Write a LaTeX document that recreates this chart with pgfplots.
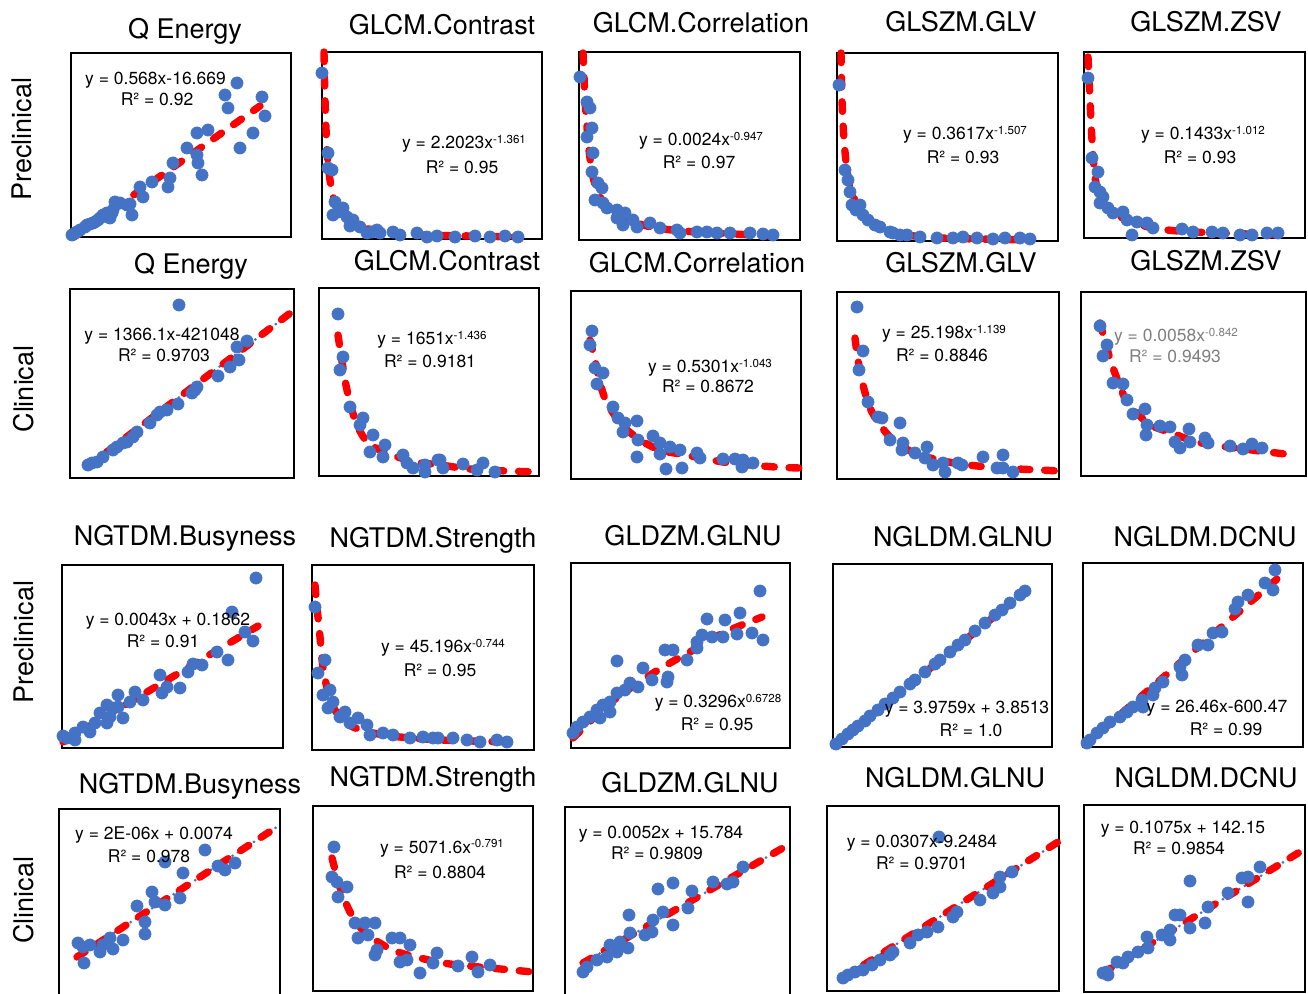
\documentclass[border=0pt]{standalone}
\usepackage{fontspec}
\setmainfont{TeX Gyre Heros}
\usepackage{pgfplots}
\pgfplotsset{compat=1.18}
\definecolor{dotblue}{HTML}{4472C4}
\definecolor{fitred}{HTML}{FF0000}
\definecolor{eqgray}{HTML}{7F7F7F}
\pgfplotsset{
 panel/.style n args={4}{xmin=#1,xmax=#2,ymin=#3,ymax=#4,x=0.5pt,y=0.5pt,y dir=reverse,
   at={(#1*0.5pt,-#3*0.5pt)},anchor=north west,ticks=none,clip=false,
   axis line style={black,line width=0.9pt}},
 dots/.style={only marks,mark=*,mark size=3pt,color=dotblue},
 fit/.style={fitred,line width=3.7pt,dash pattern=on 4.8pt off 7.4pt,line cap=round,no marks},
 trend/.style={dotblue,line width=1.5pt,dash pattern=on 0pt off 3.2pt,line cap=round,no marks},
}
\newcommand{\ttl}[3]{\node[font=\fontsize{13.5}{15}\selectfont,anchor=base,inner sep=0pt] at (#1*0.5pt,-#2*0.5pt) {#3};}
\newcommand{\eql}[3]{\node[font=\fontsize{8.75}{10}\selectfont,anchor=base,inner sep=0pt] at (#1*0.5pt,{-(#2+6)*0.5pt}) {#3};}
\newcommand{\sups}[1]{\raisebox{2.5pt}{\fontsize{5.8}{6}\selectfont #1}}
\begin{document}
\begin{tikzpicture}
\path[use as bounding box] (0,0) rectangle (654pt,-497pt);
% ---------- Row 1 ----------
\begin{axis}[panel={71}{291}{53}{237}]
\addplot[dots] coordinates {(75,233)(80,230)(85,227)(90,224)(95,222)(100,218)(103,215)(107,213)(112,213)(115,202)(120,203)(127,205)(132,215)(130,204)(140,187)(143,197)(152,182)(168,187)(170,178)(173,163)(187,148)(197,155)(197,133)(198,163)(202,175)(208,130)(225,95)(228,108)(237,83)(240,148)(253,133)(262,97)(265,116)(72,235)(77,232)(87,225)(93,223)(98,220)(108,217)(113,210)(110,218)};
\addplot[fit] coordinates {(74,237)(260,106)};
\end{axis}
\begin{axis}[panel={322}{542}{52}{239}]
\addplot[dots] coordinates {(322,73)(328,153)(328,168)(332,170)(335,202)(333,215)(343,208)(347,217)(353,220)(360,227)(367,233)(377,230)(380,233)(393,232)(400,235)(417,233)(427,237)(437,236)(455,237)(475,236)(490,237)(505,236)(518,237)(338,212)(350,226)(372,232)};
\addplot[fit,smooth] coordinates {(324,52)(325,100)(327,150)(330,180)(334,200)(340,212)(350,221)(365,228)(385,232)(420,235)(470,236)(520,237)};
\end{axis}
\begin{axis}[panel={579}{800}{52}{240}]
\addplot[dots] coordinates {(580,77)(587,102)(590,108)(592,128)(587,137)(593,153)(592,172)(598,183)(602,188)(595,200)(603,203)(607,208)(617,210)(625,213)(617,218)(623,225)(633,220)(637,227)(650,223)(660,228)(677,230)(680,233)(697,232)(707,232)(717,233)(730,233)(750,233)(763,234)(773,235)};
\addplot[fit,smooth] coordinates {(583,53)(584,77)(585,100)(587,127)(589,150)(593,177)(600,197)(610,208)(623,218)(643,225)(663,229)(697,232)(773,236)};
\end{axis}
\begin{axis}[panel={837}{1058}{53}{241}]
\addplot[dots] coordinates {(839,85)(845,170)(848,180)(850,192)(852,205)(856,210)(860,205)(868,220)(880,227)(893,233)(907,235)(937,238)(953,238)(963,237)(977,238)(993,239)(1005,238)(1020,238)(1030,239)(875,225)(890,232)(920,237)(863,215)(900,235)};
\addplot[fit,smooth] coordinates {(841,53)(842,100)(844,140)(847,170)(851,190)(857,205)(865,217)(880,228)(900,234)(940,238)(1033,240)};
\end{axis}
\begin{axis}[panel={1084}{1305}{52}{238}]
\addplot[dots] coordinates {(1088,78)(1092,158)(1098,172)(1095,187)(1100,192)(1103,197)(1100,203)(1108,208)(1113,213)(1123,212)(1127,220)(1137,222)(1147,223)(1132,235)(1153,228)(1182,229)(1193,232)(1212,232)(1223,233)(1240,235)(1252,235)(1267,233)(1278,233)};
\addplot[fit,smooth] coordinates {(1088,57)(1090,100)(1092,140)(1095,177)(1100,197)(1110,210)(1127,220)(1153,228)(1193,232)(1280,235)};
\end{axis}
% ---------- Row 2 ----------
\begin{axis}[panel={70}{294}{289}{478}]
\addplot[dots] coordinates {(179,305)(247,341)(237,347)(239,360)(230,367)(218,376)(197,387)(192,393)(178,404)(167,410)(157,415)(150,423)(137,432)(127,442)(117,447)(113,450)(103,457)(97,462)(88,465)(92,463)(195,390)(160,412)(133,437)(123,443)};
\addplot[trend] coordinates {(87,467)(293,311)};
\addplot[fit] coordinates {(87,467)(293,311)};
\end{axis}
\begin{axis}[panel={319}{539}{288}{476}]
\addplot[dots] coordinates {(338,314)(343,357)(340,370)(350,407)(363,418)(360,425)(373,435)(370,452)(385,445)(383,457)(403,455)(407,463)(413,468)(425,465)(425,472)(438,460)(440,460)(443,468)(463,464)(477,470)(483,463)(495,472)};
\addplot[fit,smooth] coordinates {(338,335)(341,355)(345,380)(350,403)(357,425)(367,442)(380,450)(395,456)(415,462)(440,465)(470,469)(507,471)(539,472)};
\end{axis}
\begin{axis}[panel={571}{801}{291}{479}]
\addplot[dots] coordinates {(592,331)(590,345)(595,368)(603,373)(597,384)(613,407)(618,418)(625,423)(637,421)(623,432)(638,440)(637,457)(653,436)(660,443)(670,447)(660,454)(680,450)(666,469)(682,468)(697,453)(700,458)(723,459)(735,459)(742,467)(743,460)(753,463)};
\addplot[fit,smooth] coordinates {(590,340)(595,360)(600,383)(607,403)(622,425)(640,440)(660,450)(680,454)(707,459)(730,463)(775,467)(800,468)};
\end{axis}
\begin{axis}[panel={837}{1059}{292}{479}]
\addplot[dots] coordinates {(857,307)(863,351)(859,370)(868,402)(878,417)(882,418)(900,423)(890,440)(903,443)(902,450)(915,453)(927,447)(925,458)(933,465)(943,463)(945,472)(958,463)(962,465)(983,457)(997,468)(1003,455)(1003,468)(1013,472)};
\addplot[fit,smooth] coordinates {(855,338)(858,360)(863,385)(870,408)(880,425)(893,440)(910,451)(930,458)(960,464)(1000,468)(1040,470)(1059,471)};
\end{axis}
\begin{axis}[panel={1081}{1306}{292}{476}]
\addplot[dots] coordinates {(1100,326)(1107,345)(1103,356)(1113,383)(1123,384)(1127,400)(1133,414)(1145,409)(1147,425)(1146,435)(1160,426)(1170,427)(1175,442)(1180,448)(1189,429)(1190,442)(1205,438)(1208,443)(1230,446)(1243,449)(1252,444)(1262,448)};
\addplot[fit,smooth] coordinates {(1100,323)(1108,352)(1113,368)(1127,403)(1137,413)(1150,425)(1172,433)(1193,441)(1220,446)(1285,454)};
\end{axis}
% ---------- Row 3 ----------
\begin{axis}[panel={62}{283}{565}{748}]
\addplot[dots] coordinates {(256,578)(232,612)(253,641)(245,632)(228,660)(217,652)(202,665)(193,664)(188,672)(180,688)(160,675)(162,693)(167,687)(143,700)(135,692)(130,702)(118,695)(123,718)(113,708)(107,705)(100,713)(107,723)(95,723)(90,732)(83,727)(75,733)(67,738)(63,736)(75,740)(110,717)(118,707)};
\addplot[fit] coordinates {(63,742)(258,626)};
\end{axis}
\begin{axis}[panel={312}{534}{565}{750}]
\addplot[dots] coordinates {(315,607)(325,660)(318,673)(323,695)(333,702)(328,708)(340,717)(350,723)(358,718)(367,725)(370,735)(383,733)(393,735)(410,738)(423,737)(433,738)(438,738)(453,738)(467,740)(480,742)(497,740)(507,742)(330,690)(345,712)};
\addplot[fit,smooth] coordinates {(315,585)(317,607)(320,637)(323,667)(330,700)(340,717)(353,727)(373,733)(400,737)(440,740)(510,742)};
\end{axis}
\begin{axis}[panel={571}{790}{563}{748}]
\addplot[dots] coordinates {(760,591)(740,613)(725,620)(707,619)(752,633)(763,640)(737,634)(723,637)(712,637)(702,635)(697,642)(697,648)(687,660)(673,650)(665,650)(668,677)(667,682)(652,680)(643,668)(617,661)(638,687)(630,683)(625,690)(617,693)(610,702)(603,705)(597,710)(590,717)(583,722)(577,727)(573,733)(600,718)(610,712)};
\addplot[fit,smooth] coordinates {(573,738)(610,703)(647,677)(670,663)(697,648)(723,633)(762,617)};
\end{axis}
\begin{axis}[panel={833}{1052}{564}{747}]
\addplot[dots] coordinates {(836,744)(842,739)(848,734)(853,730)(858,726)(865,721)(870,716)(878,710)(885,704)(893,698)(900,692)(910,684)(915,680)(925,672)(935,664)(940,660)(950,652)(958,645)(965,640)(975,631)(985,623)(995,615)(1002,610)(1010,603)(1020,595)(1025,591)};
\addplot[fit] coordinates {(834,746)(1027,590)};
\end{axis}
\begin{axis}[panel={1083}{1303}{563}{747}]
\addplot[dots] coordinates {(1275,570)(1273,590)(1265,583)(1248,595)(1238,602)(1235,609)(1222,632)(1213,633)(1208,645)(1198,645)(1185,660)(1180,667)(1182,675)(1163,682)(1155,688)(1153,695)(1142,700)(1133,707)(1127,712)(1120,717)(1110,722)(1103,728)(1097,733)(1090,740)(1087,743)(1143,707)};
\addplot[fit] coordinates {(1085,745)(1277,579)};
\end{axis}
% ---------- Row 4 ----------
\begin{axis}[panel={59}{280}{809}{997}]
\addplot[dots] coordinates {(205,850)(165,862)(183,873)(218,866)(225,870)(235,863)(152,892)(180,898)(155,902)(165,905)(137,906)(145,922)(145,934)(123,940)(110,938)(113,949)(100,952)(103,945)(90,945)(78,943)(83,947)(84,963)};
\addplot[trend] coordinates {(77,957)(280,825)};
\addplot[fit] coordinates {(77,957)(280,825)};
\end{axis}
\begin{axis}[panel={313}{533}{806}{991}]
\addplot[dots] coordinates {(334,847)(332,877)(337,882)(347,887)(338,897)(355,923)(365,923)(375,923)(358,938)(368,935)(377,950)(375,955)(392,938)(400,938)(410,945)(400,962)(407,960)(420,973)(437,953)(433,963)(458,966)(472,957)(478,972)(490,965)};
\addplot[fit,smooth] coordinates {(332,858)(337,877)(342,893)(350,912)(360,927)(375,940)(395,951)(420,958)(450,964)(490,968)(533,972)};
\end{axis}
\begin{axis}[panel={565}{790}{807}{997}]
\addplot[dots] coordinates {(743,867)(733,882)(727,884)(713,882)(692,891)(673,883)(658,889)(688,908)(673,925)(663,912)(653,920)(652,932)(645,935)(629,915)(630,933)(628,948)(620,942)(610,945)(617,952)(607,957)(597,960)(587,967)(583,972)};
\addplot[trend] coordinates {(583,963)(788,845)};
\addplot[fit] coordinates {(583,963)(788,845)};
\end{axis}
\begin{axis}[panel={827}{1059}{806}{991}]
\addplot[dots] coordinates {(939,837)(1012,872)(1000,877)(1000,887)(993,893)(980,900)(957,912)(953,917)(938,927)(927,932)(918,935)(910,943)(893,952)(890,955)(880,960)(872,965)(863,970)(848,975)(843,978)(855,972)};
\addplot[trend] coordinates {(843,978)(1058,842)};
\addplot[fit] coordinates {(843,978)(1058,842)};
\end{axis}
\begin{axis}[panel={1084}{1305}{805}{992}]
\addplot[dots] coordinates {(1190,881)(1260,867)(1248,877)(1242,878)(1248,902)(1228,893)(1208,907)(1205,923)(1190,928)(1180,915)(1175,915)(1170,930)(1170,940)(1162,935)(1147,937)(1148,948)(1138,952)(1128,957)(1123,963)(1117,962)(1107,972)(1103,973)(1108,975)};
\addplot[trend] coordinates {(1103,973)(1303,850)};
\addplot[fit] coordinates {(1103,973)(1303,850)};
\end{axis}
% ---------- Titles ----------
\ttl{185}{39}{Q Energy}
\ttl{442}{35}{GLCM.Contrast}
\ttl{701}{33}{GLCM.Correlation}
\ttl{961}{32}{GLSZM.GLV}
\ttl{1206}{32}{GLSZM.ZSV}
\ttl{191}{274}{Q Energy}
\ttl{447}{271}{GLCM.Contrast}
\ttl{697}{273}{GLCM.Correlation}
\ttl{961}{273}{GLSZM.GLV}
\ttl{1206}{271}{GLSZM.ZSV}
\ttl{185}{546}{NGTDM.Busyness}
\ttl{433}{548}{NGTDM.Strength}
\ttl{693}{546}{GLDZM.GLNU}
\ttl{963}{547}{NGLDM.GLNU}
\ttl{1205}{547}{NGLDM.DCNU}
\ttl{190}{793}{NGTDM.Busyness}
\ttl{433}{786}{NGTDM.Strength}
\ttl{690}{792}{GLDZM.GLNU}
\ttl{955}{787}{NGLDM.GLNU}
\ttl{1206}{787}{NGLDM.DCNU}
% ---------- Row labels ----------
\node[font=\fontsize{13.5}{15}\selectfont,rotate=90,anchor=base,inner sep=0pt] at (32*0.5pt,-139*0.5pt) {Preclinical};
\node[font=\fontsize{13.5}{15}\selectfont,rotate=90,anchor=base,inner sep=0pt] at (33*0.5pt,-389*0.5pt) {Clinical};
\node[font=\fontsize{13.5}{15}\selectfont,rotate=90,anchor=base,inner sep=0pt] at (33*0.5pt,-642*0.5pt) {Preclinical};
\node[font=\fontsize{13.5}{15}\selectfont,rotate=90,anchor=base,inner sep=0pt] at (33*0.5pt,-900*0.5pt) {Clinical};
% ---------- Equations ----------
\eql{155.5}{79}{y = 0.568x-16.669}
\eql{157}{100}{R² = 0.92}
\eql{464}{143}{y = 2.2023x\sups{-1.361}}
\eql{462}{168}{R² = 0.95}
\eql{701}{140}{y = 0.0024x\sups{-0.947}}
\eql{699}{163}{R² = 0.97}
\eql{965}{134}{y = 0.3617x\sups{-1.507}}
\eql{963}{158}{R² = 0.93}
\eql{1203}{134}{y = 0.1433x\sups{-1.012}}
\eql{1200}{158}{R² = 0.93}
\eql{162}{335}{y = 1366.1x-421048}
\eql{164}{356}{R² = 0.9703}
\eql{432}{339}{y = 1651x\sups{-1.436}}
\eql{430}{362}{R² = 0.9181}
\eql{710}{367}{y = 0.5301x\sups{-1.043}}
\eql{708}{387}{R² = 0.8672}
\eql{944}{333}{y = 25.198x\sups{-1.139}}
\eql{942}{356}{R² = 0.8846}
\eql{1176}{336}{\color{eqgray}y = 0.0058x\sups{-0.842}}
\eql{1175}{357}{\color{eqgray}R² = 0.9493}
\eql{168}{620}{y = 0.0043x + 0.1862}
\eql{163}{642}{R² = 0.91}
\eql{443}{647}{y = 45.196x\sups{-0.744}}
\eql{440}{671}{R² = 0.95}
\eql{718}{702}{y = 0.3296x\sups{0.6728}}
\eql{717}{725}{R² = 0.95}
\eql{967}{708}{y = 3.9759x + 3.8513}
\eql{971}{731}{R² = 1.0}
\eql{1217}{706}{y = 26.46x-600.47}
\eql{1226}{729}{R² = 0.99}
\eql{154}{834}{y = 2E-06x + 0.0074}
\eql{149}{856}{R² = 0.978}
\eql{442}{847}{y = 5071.6x\sups{-0.791}}
\eql{440}{872}{R² = 0.8804}
\eql{661}{832}{y = 0.0052x + 15.784}
\eql{657}{853}{R² = 0.9809}
\eql{922}{842}{y = 0.0307x-9.2484}
\eql{922}{863}{R² = 0.9701}
\eql{1183}{828}{y = 0.1075x + 142.15}
\eql{1179}{848}{R² = 0.9854}
\end{tikzpicture}
\end{document}
